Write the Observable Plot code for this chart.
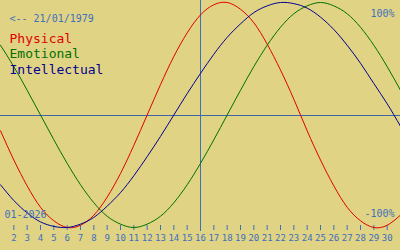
<!DOCTYPE html>
<html>
<head>
<meta charset="utf-8">
<script src="https://cdn.jsdelivr.net/npm/d3@7"></script>
<script src="https://cdn.jsdelivr.net/npm/@observablehq/plot@0.6"></script>
<style>
  html, body { margin: 0; padding: 0; background: #e1d384; }
  #chart svg { display: block; }
</style>
</head>
<body>
<div id="chart"></div>
<script>
// Days of the month (01-2026)
const days = d3.range(1, 32);
const tickDays = d3.range(2, 31);
const today = 16;
const birthLabel = "<-- 21/01/1979";
const monthLabel = "01-2026";
const topLabel = "100%";
const bottomLabel = "-100%";
const seriesNames = ["Physical", "Emotional", "Intellectual"];
const seriesColors = ["#e00000", "#007000", "#000090"];

// Values (-1 .. 1), one per day
const physical = [-0.14,-0.40,-0.63,-0.82,-0.94,-1.00,-0.98,-0.89,-0.73,-0.52,-0.27,0.00,0.27,0.52,0.73,0.89,0.98,1.00,0.94,0.82,0.63,0.40,0.14,-0.14,-0.40,-0.63,-0.82,-0.94,-1.00,-0.98,-0.89];
const emotional = [0.62,0.43,0.22,0.00,-0.22,-0.43,-0.62,-0.78,-0.90,-0.97,-1.00,-0.97,-0.90,-0.78,-0.62,-0.43,-0.22,0.00,0.22,0.43,0.62,0.78,0.90,0.97,1.00,0.97,0.90,0.78,0.62,0.43,0.22];
const intellectual = [-0.62,-0.76,-0.87,-0.95,-0.99,-1.00,-0.97,-0.91,-0.81,-0.69,-0.54,-0.37,-0.19,0.00,0.19,0.37,0.54,0.69,0.81,0.91,0.97,1.00,0.99,0.95,0.87,0.76,0.62,0.46,0.28,0.10,-0.10];

const seriesValues = [physical, emotional, intellectual];
const rows = seriesNames.flatMap((name, i) =>
  days.map((d, j) => ({day: d, value: seriesValues[i][j], series: name})));

const blue = "#3d6fbf";
const font = "DejaVu Sans Mono, monospace";

const legendMarks = seriesNames.map((name, i) =>
  Plot.text([name], {frameAnchor: "top-left", text: d => d, dx: 9, dy: 40 + i * 15.5,
    lineAnchor: "bottom", textAnchor: "start", fill: seriesColors[i], fontSize: 13, fontFamily: font}));

const chart = Plot.plot({
  width: 400,
  height: 250,
  marginTop: 2,
  marginBottom: 23,
  marginLeft: 0,
  marginRight: 0,
  style: {background: "#e1d384", fontFamily: font, overflow: "visible"},
  x: {domain: [1, 31], axis: null},
  y: {domain: [-1, 1], axis: null},
  color: {domain: seriesNames, range: seriesColors},
  marks: [
    Plot.ruleY([0], {stroke: "#3c68a4", strokeWidth: 1, shapeRendering: "crispEdges"}),
    Plot.ruleX([today], {stroke: blue, strokeWidth: 1, insetTop: -2, insetBottom: -4, shapeRendering: "crispEdges"}),
    Plot.axisX({ticks: tickDays, tickSize: 5, tickPadding: 4, dy: -2, stroke: blue, fill: blue, label: null,
      fontSize: 9, fontFamily: font, tickFormat: d => String(d), color: blue}),
    Plot.line(rows, {x: "day", y: "value", z: "series", stroke: "series", strokeWidth: 1, curve: "natural"}),
    Plot.text([birthLabel], {frameAnchor: "top-left", text: d => d, dx: 9, dy: 19, lineAnchor: "bottom", textAnchor: "start", fill: blue, fontSize: 10, fontFamily: font}),
    ...legendMarks,
    Plot.text([topLabel], {frameAnchor: "top-right", text: d => d, dx: -6, dy: 14, lineAnchor: "bottom", textAnchor: "end", fill: blue, fontSize: 10, fontFamily: font}),
    Plot.text([bottomLabel], {frameAnchor: "bottom-right", text: d => d, dx: -6, dy: -11, lineAnchor: "bottom", textAnchor: "end", fill: blue, fontSize: 10, fontFamily: font}),
    Plot.text([monthLabel], {frameAnchor: "bottom-left", text: d => d, dx: 4, dy: -10, lineAnchor: "bottom", textAnchor: "start", fill: blue, fontSize: 10, fontFamily: font})
  ]
});
document.getElementById("chart").appendChild(chart);
</script>
</body>
</html>
